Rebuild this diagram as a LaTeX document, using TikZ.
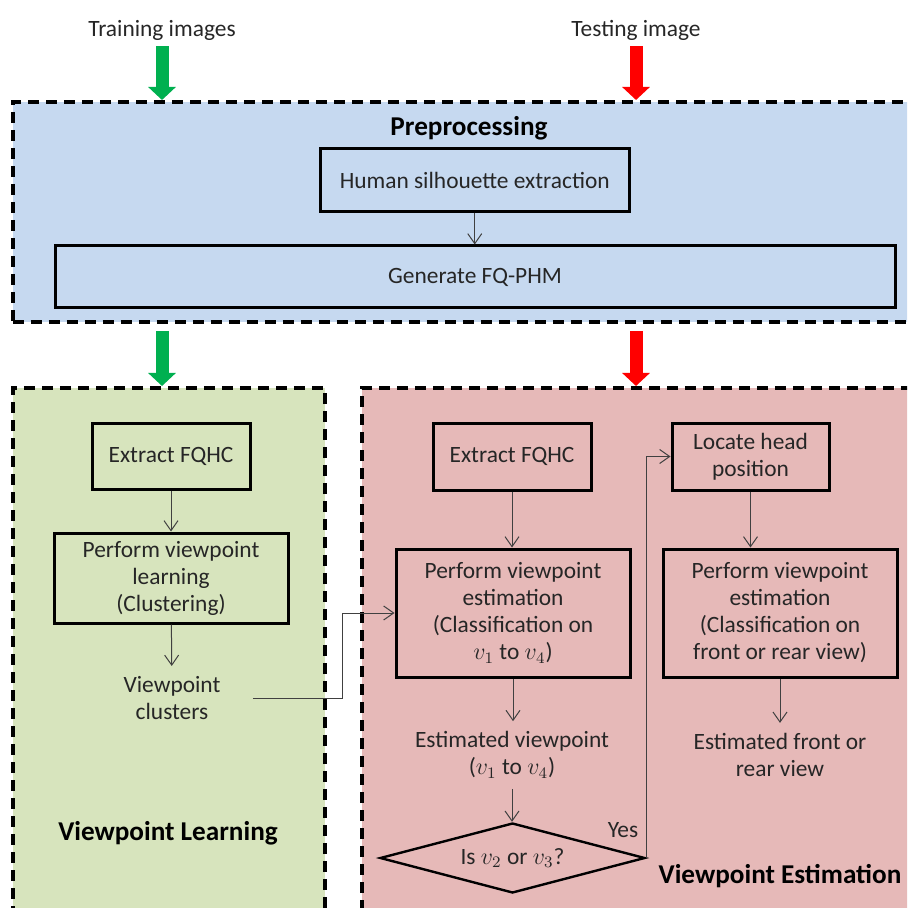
\documentclass[tikz,border=0pt]{standalone}
\usepackage{fontspec}
\setmainfont{Carlito}
\usetikzlibrary{arrows.meta, positioning, calc, shapes.geometric}
\definecolor{preblue}{RGB}{198,217,240}
\definecolor{learngreen}{RGB}{215,228,189}
\definecolor{estpink}{RGB}{230,185,184}
\definecolor{ingreen}{RGB}{0,176,80}
\definecolor{inred}{RGB}{255,0,0}

\tikzset{
  panelbox/.style={draw=black, line width=2pt, dash pattern=on 5.5pt off 3.5pt, inner sep=0pt},
  stagebox/.style={draw=black, line width=1.5pt, inner sep=2pt, align=center, text=black!85},
  plaintext/.style={inner sep=5pt, align=center, text=black!85},
  paneltitle/.style={font=\fontsize{13.6}{16}\selectfont\bfseries},
  decision/.style={diamond, draw=black, line width=1.2pt, aspect=3.8, inner sep=0pt,
    minimum width=132.5pt, minimum height=35pt, text=black!85},
  flow/.style={->, draw=black!75, line width=0.5pt},
  bigarrow/.style={-{Triangle[width=13.5pt,length=6.5pt]}, line width=6.5pt},
}

\begin{document}
\begin{tikzpicture}[x=0.5pt, y=-0.5pt, >={Straight Barb[length=5pt,width=7pt]},
  font=\fontsize{11.7}{13.5}\selectfont]
  \useasboundingbox (0,0) rectangle (907,908);
  \clip (0,0) rectangle (907,908);

  % Panels
  \node[panelbox, fill=preblue, minimum width=451pt, minimum height=110pt] (pre) at (463.5,212) {};
  \node[panelbox, fill=learngreen, minimum width=156pt, minimum height=266pt] (vl) at (169,654) {};
  \node[panelbox, fill=estpink, minimum width=279pt, minimum height=266pt] (ve) at (641,654) {};

  % Inputs
  \node[plaintext, inner sep=3pt] (train) at (162,30) {Training images};
  \node[plaintext, inner sep=3pt] (test) at (636,30) {Testing image};
  \draw[bigarrow, ingreen] (train.south) -- (train.south |- pre.north);
  \draw[bigarrow, inred] (test.south) -- (test.south |- pre.north);
  \draw[bigarrow, ingreen, shorten <=3.5pt] (train.south |- pre.south) -- (train.south |- vl.north);
  \draw[bigarrow, inred, shorten <=3.5pt] (test.south |- pre.south) -- (test.south |- ve.north);

  % Preprocessing
  \node[paneltitle] (pretitle) at (469,128) {Preprocessing};
  \node[stagebox, minimum width=154.75pt, minimum height=31.25pt] (sil) at (474.75,180) {Human silhouette extraction};
  \node[stagebox, minimum width=420pt, minimum height=31pt] (gen) at (475,277) {Generate FQ-PHM};
  \draw[flow] (sil.south) -- (sil.south |- gen.north);

  % Viewpoint learning
  \node[stagebox, minimum width=79pt, minimum height=33pt] (lex) at (171,456) {Extract FQHC};
  \node[stagebox, minimum width=117pt, minimum height=45pt] (learn) at (171,578) {Perform viewpoint\\learning\\(Clustering)};
  \node[plaintext] (clus) at (172,698) {Viewpoint\\clusters};
  \node[paneltitle] (vltitle) at (168,833) {Viewpoint Learning};
  \draw[flow] (lex) -- (learn);
  \draw[flow] (learn) -- (clus);

  % Viewpoint estimation
  \node[stagebox, minimum width=79pt, minimum height=33.5pt] (eex) at (512,456.5) {Extract FQHC};
  \node[stagebox, minimum width=117pt, minimum height=64pt] (est) at (513,613) {Perform viewpoint\\estimation\\(Classification on\\$v_1$ to $v_4$)};
  \node[plaintext] (estv) at (512,755) {Estimated viewpoint\\($v_1$ to $v_4$)};
  \node[decision] (dia) at (512.5,858) {Is $v_2$ or $v_3$?};
  \node[plaintext] (yes) at (623,830) {Yes};
  \node[stagebox, minimum width=78.5pt, minimum height=33.5pt] (loc) at (750.5,456.5) {Locate head\\position};
  \node[stagebox, minimum width=117pt, minimum height=64pt] (est2) at (780,613) {Perform viewpoint\\estimation\\(Classification on\\front or rear view)};
  \node[plaintext] (estf) at (780,755) {Estimated front or\\rear view};
  \node[paneltitle] (vetitle) at (780,876) {Viewpoint Estimation};

  \draw[flow] (eex.south) -- (eex.south |- est.north);
  \draw[flow] (est.south) -- (est.south |- estv.north);
  \draw[flow] (estv.south) -- (estv.south |- dia.north);
  \draw[flow] (loc.south) -- (loc.south |- est2.north);
  \draw[flow] (est2) -- (estf);
  \draw[flow] (dia.east) |- (loc.west);

  % Clusters feed the estimation
  \coordinate (clusout) at ([xshift=11pt]clus.east);
  \draw[flow] (clusout) -- ++(45pt,0) |- (est.west);
\end{tikzpicture}
\end{document}
